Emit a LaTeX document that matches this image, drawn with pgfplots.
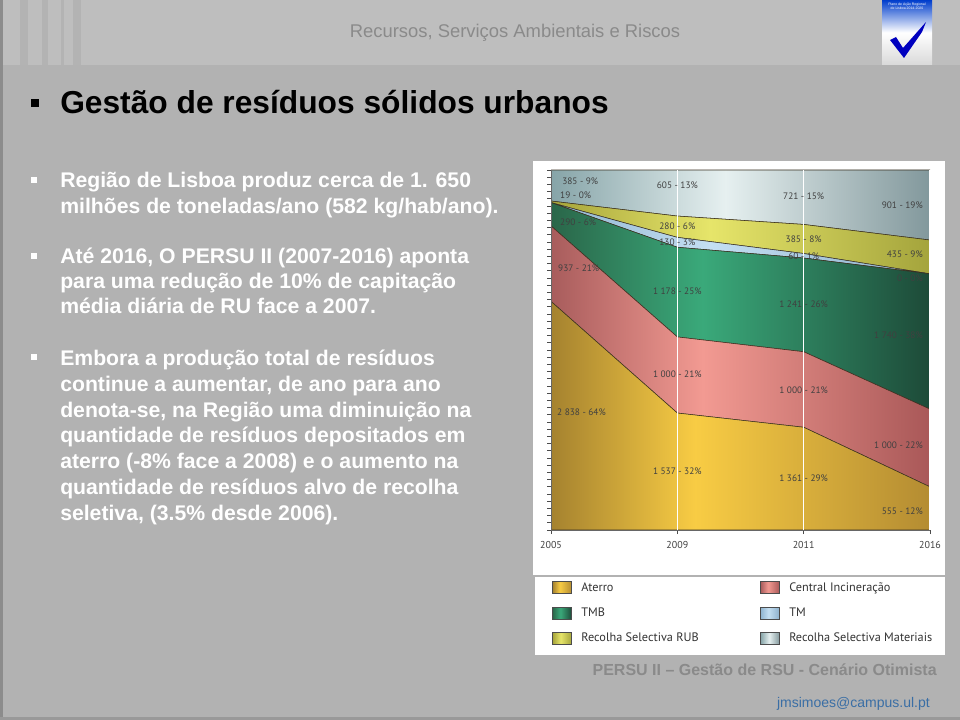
\documentclass[border=0pt]{standalone}
\usepackage{pgfplots}
\pgfplotsset{compat=1.18}
\usepackage{pgfplotstable}
\usepackage{fontspec}
\setmainfont{Liberation Sans}
\newfontfamily\chartfont{PT Sans}

\definecolor{slidebg}{HTML}{B2B2B2}
\definecolor{topbg}{HTML}{BEBEBE}
\definecolor{stripe}{HTML}{B3B3B3}
\definecolor{hdrtxt}{HTML}{8A8A8A}
\definecolor{mailblue}{HTML}{3A6EA5}

\definecolor{atL}{HTML}{A5822F}\definecolor{atM}{HTML}{F8CC44}\definecolor{atR}{HTML}{B48C32}
\definecolor{ciL}{HTML}{A85C5C}\definecolor{ciM}{HTML}{F29A92}\definecolor{ciR}{HTML}{A95858}
\definecolor{tmbL}{HTML}{2A6649}\definecolor{tmbM}{HTML}{3AA97A}\definecolor{tmbR}{HTML}{1D4A38}
\definecolor{tmL}{HTML}{8FB4D0}\definecolor{tmM}{HTML}{C4DFF2}\definecolor{tmR}{HTML}{8CB0CC}
\definecolor{rubL}{HTML}{A6A43A}\definecolor{rubM}{HTML}{E6E56A}\definecolor{rubR}{HTML}{A4A43C}
\definecolor{rsmL}{HTML}{86A4A8}\definecolor{rsmM}{HTML}{E6F0F0}\definecolor{rsmR}{HTML}{82989C}
\definecolor{edge}{HTML}{3A3020}

% horizontal gradients, path box mapped to 25bp..75bp, brightest at ~40%
\pgfdeclarehorizontalshading{atS}{100bp}{color(0bp)=(atL); color(25bp)=(atL); color(44bp)=(atM); color(75bp)=(atR); color(100bp)=(atR)}
\pgfdeclarehorizontalshading{ciS}{100bp}{color(0bp)=(ciL); color(25bp)=(ciL); color(45bp)=(ciM); color(75bp)=(ciR); color(100bp)=(ciR)}
\pgfdeclarehorizontalshading{tmbS}{100bp}{color(0bp)=(tmbL); color(25bp)=(tmbL); color(45bp)=(tmbM); color(75bp)=(tmbR); color(100bp)=(tmbR)}
\pgfdeclarehorizontalshading{tmS}{100bp}{color(0bp)=(tmL); color(25bp)=(tmL); color(46bp)=(tmM); color(75bp)=(tmR); color(100bp)=(tmR)}
\pgfdeclarehorizontalshading{rubS}{100bp}{color(0bp)=(rubL); color(25bp)=(rubL); color(46bp)=(rubM); color(75bp)=(rubR); color(100bp)=(rubR)}
\pgfdeclarehorizontalshading{rsmS}{100bp}{color(0bp)=(rsmL); color(25bp)=(rsmL); color(48bp)=(rsmM); color(75bp)=(rsmR); color(100bp)=(rsmR)}

\tikzset{lbl/.style={font=\chartfont\fontsize{7pt}{8.5pt}\selectfont, text=black!75, inner sep=0pt}}

% Waste (thousand t) by destination; x = 0,1,2,3 -> 2005, 2009, 2011, 2016
\pgfplotstableread{
x total at ci tmb tm rub rsm
0 4469 2838 937 290 0 19 385
1 4730 1537 1000 1178 130 280 605
2 4768 1361 1000 1241 60 385 721
3 4631 555 1000 1740 0 435 901
}\rsudata

\begin{document}
\begin{tikzpicture}
\begin{scope}[x=0.75pt,y=-0.75pt]
  % background
  \fill[slidebg] (0,0) rectangle (960,720);
  \fill[topbg] (0,0) rectangle (960,65);
  \fill[stripe] (20,0) rectangle (28,65);
  \fill[stripe] (42,0) rectangle (48,65);
  \fill[stripe] (61,0) rectangle (64,65);
  \fill[stripe] (73,0) rectangle (81,65);
  \fill[black!45] (0,0) rectangle (3,720);
  \fill[black!40] (0,717) rectangle (960,720);
  \useasboundingbox (0,0) rectangle (960,720);
  % header
  \node[anchor=base, text=hdrtxt, font=\fontsize{13.8pt}{16pt}\selectfont] at (515,38) {Recursos, Serviços Ambientais e Riscos};
  % logo
  \shade[top color=blue!70!cyan!80!black, bottom color=black!15, middle color=white] (882,0) rectangle (932,65);
  \fill[blue!75!black] (890,40) -- (896,37) -- (903,48) -- (926,22) -- (922,32) -- (904,58) -- cycle;
  \node[anchor=north, text=white, font=\fontsize{2.6pt}{3pt}\selectfont, align=center, inner sep=0pt] at (907,3) {Plano de Ação Regional\\de Lisboa 2014-2020};
  % title
  \fill[black] (31,99) rectangle (39,107);
  \node[anchor=base west, inner sep=0pt, font=\fontsize{23.8pt}{28pt}\selectfont\bfseries] at (60,114) {Gestão de resíduos sólidos urbanos};
  % body text
  \begin{scope}[every node/.style={anchor=base west, inner sep=0pt, text=white, font=\fontsize{15.9pt}{19pt}\selectfont\bfseries}]
    \fill[white] (31,177) rectangle (37,183);
    \node at (60,188) {Região de Lisboa produz cerca de 1. 650};
    \node at (60,214) {milhões de toneladas/ano (582 kg/hab/ano).};
    \fill[white] (31,253) rectangle (37,259);
    \node at (60,264) {Até 2016, O PERSU II (2007-2016) aponta};
    \node at (60,289) {para uma redução de 10\% de capitação};
    \node at (60,314) {média diária de RU face a 2007.};
    \fill[white] (31,354) rectangle (37,360);
    \node at (60,365) {Embora a produção total de resíduos};
    \node at (60,391) {continue a aumentar, de ano para ano};
    \node at (60,417) {denota-se, na Região uma diminuição na};
    \node at (60,442) {quantidade de resíduos depositados em};
    \node at (60,468) {aterro (-8\% face a 2008) e o aumento na};
    \node at (60,494) {quantidade de resíduos alvo de recolha};
    \node at (60,520) {seletiva, (3.5\% desde 2006).};
  \end{scope}
  % footer
  \node[anchor=base east, inner sep=0pt, text=hdrtxt, font=\fontsize{12pt}{14pt}\selectfont\bfseries] at (937,675) {PERSU II -- Gestão de RSU - Cenário Otimista};
  \node[anchor=base east, inner sep=0pt, text=mailblue, font=\fontsize{10.5pt}{12pt}\selectfont] at (930,707) {jmsimoes@campus.ul.pt};
  % chart panels
  \fill[white] (533,161) rectangle (945,575);
  \fill[white] (535,577) rectangle (945,655);
\end{scope}

\begin{axis}[
  at={(413.25pt,-397.5pt)}, anchor=south west,
  width=284.25pt, height=270pt, scale only axis,
  xmin=0, xmax=3, ymin=0, ymax=100,
  stack plots=y, area style,
  axis x line*=bottom, axis y line*=left,
  xtick={0,1,2,3}, xticklabels={2005,2009,2011,2016},
  xmajorgrids, grid style={white, line width=1pt},
  ytick={0,2,...,100}, yticklabels={},
  tick align=outside, major tick length=3pt,
  tick style={black!70, line width=0.5pt},
  axis line style={black!60, line width=0.6pt},
  axis on top,
  xticklabel style={font=\chartfont\fontsize{7.5pt}{9pt}\selectfont, text=black!75, yshift=-2pt},
  legend columns=2,
  legend cell align=left,
  legend image code/.code={\draw[#1, draw=black!70, line width=0.6pt] (0pt,-4.5pt) rectangle (14.25pt,4.5pt);},
  legend style={at={(-0.008,-0.13)}, anchor=north west, draw=none, fill=none,
    font=\chartfont\fontsize{9.2pt}{11pt}\selectfont, text=black!80,
    row sep=7pt,
    /tikz/every odd column/.append style={column sep=5pt},
    /tikz/every even column/.append style={column sep=44pt}},
]
\addplot[draw=edge, line width=0.4pt, shade, shading=atS]
  table[x=x, y expr=\thisrow{at}/\thisrow{total}*100] {\rsudata} \closedcycle;
\addplot[draw=edge, line width=0.4pt, shade, shading=ciS]
  table[x=x, y expr=\thisrow{ci}/\thisrow{total}*100] {\rsudata} \closedcycle;
\addplot[draw=edge, line width=0.4pt, shade, shading=tmbS]
  table[x=x, y expr=\thisrow{tmb}/\thisrow{total}*100] {\rsudata} \closedcycle;
\addplot[draw=edge, line width=0.4pt, shade, shading=tmS]
  table[x=x, y expr=\thisrow{tm}/\thisrow{total}*100] {\rsudata} \closedcycle;
\addplot[draw=edge, line width=0.4pt, shade, shading=rubS]
  table[x=x, y expr=\thisrow{rub}/\thisrow{total}*100] {\rsudata} \closedcycle;
\addplot[draw=edge, line width=0.4pt, shade, shading=rsmS]
  table[x=x, y expr=\thisrow{rsm}/\thisrow{total}*100] {\rsudata} \closedcycle;
\legend{Aterro, Central Incineração, TMB, TM, Recolha Selectiva RUB, Recolha Selectiva Materiais}

% label anchors
\coordinate (l01) at (axis cs:0.087,97.0);
\coordinate (l02) at (axis cs:0.071,93.1);
\coordinate (l03) at (axis cs:0.071,85.6);
\coordinate (l04) at (axis cs:0.055,72.8);
\coordinate (l05) at (axis cs:0.047,32.8);
\coordinate (l06) at (axis cs:1,95.8);
\coordinate (l07) at (axis cs:1,84.4);
\coordinate (l08) at (axis cs:1,80.0);
\coordinate (l09) at (axis cs:1,66.2);
\coordinate (l10) at (axis cs:1,43.3);
\coordinate (l11) at (axis cs:1,16.4);
\coordinate (l12) at (axis cs:2,92.6);
\coordinate (l13) at (axis cs:2,80.8);
\coordinate (l14) at (axis cs:2,76.1);
\coordinate (l15) at (axis cs:2,62.8);
\coordinate (l16) at (axis cs:2,38.7);
\coordinate (l17) at (axis cs:2,14.5);
\coordinate (l18) at (axis cs:2.945,90.1);
\coordinate (l19) at (axis cs:2.945,76.7);
\coordinate (l20) at (axis cs:2.945,70.0);
\coordinate (l21) at (axis cs:2.945,54.2);
\coordinate (l22) at (axis cs:2.945,23.6);
\coordinate (l23) at (axis cs:2.945,5.3);
\end{axis}

% data labels
\node[lbl, anchor=west] at (l01) {385 - 9\%};
\node[lbl, anchor=west] at (l02) {19 - 0\%};
\node[lbl, anchor=west] at (l03) {290 - 6\%};
\node[lbl, anchor=west] at (l04) {937 - 21\%};
\node[lbl, anchor=west] at (l05) {2 838 - 64\%};
\node[lbl] at (l06) {605 - 13\%};
\node[lbl] at (l07) {280 - 6\%};
\node[lbl] at (l08) {130 - 3\%};
\node[lbl] at (l09) {1 178 - 25\%};
\node[lbl] at (l10) {1 000 - 21\%};
\node[lbl] at (l11) {1 537 - 32\%};
\node[lbl] at (l12) {721 - 15\%};
\node[lbl] at (l13) {385 - 8\%};
\node[lbl] at (l14) {60 - 1\%};
\node[lbl] at (l15) {1 241 - 26\%};
\node[lbl] at (l16) {1 000 - 21\%};
\node[lbl] at (l17) {1 361 - 29\%};
\node[lbl, anchor=east] at (l18) {901 - 19\%};
\node[lbl, anchor=east] at (l19) {435 - 9\%};
\node[lbl, anchor=east] at (l20) {0 - 0\%};
\node[lbl, anchor=east] at (l21) {1 740 - 38\%};
\node[lbl, anchor=east] at (l22) {1 000 - 22\%};
\node[lbl, anchor=east] at (l23) {555 - 12\%};
\end{tikzpicture}
\end{document}
